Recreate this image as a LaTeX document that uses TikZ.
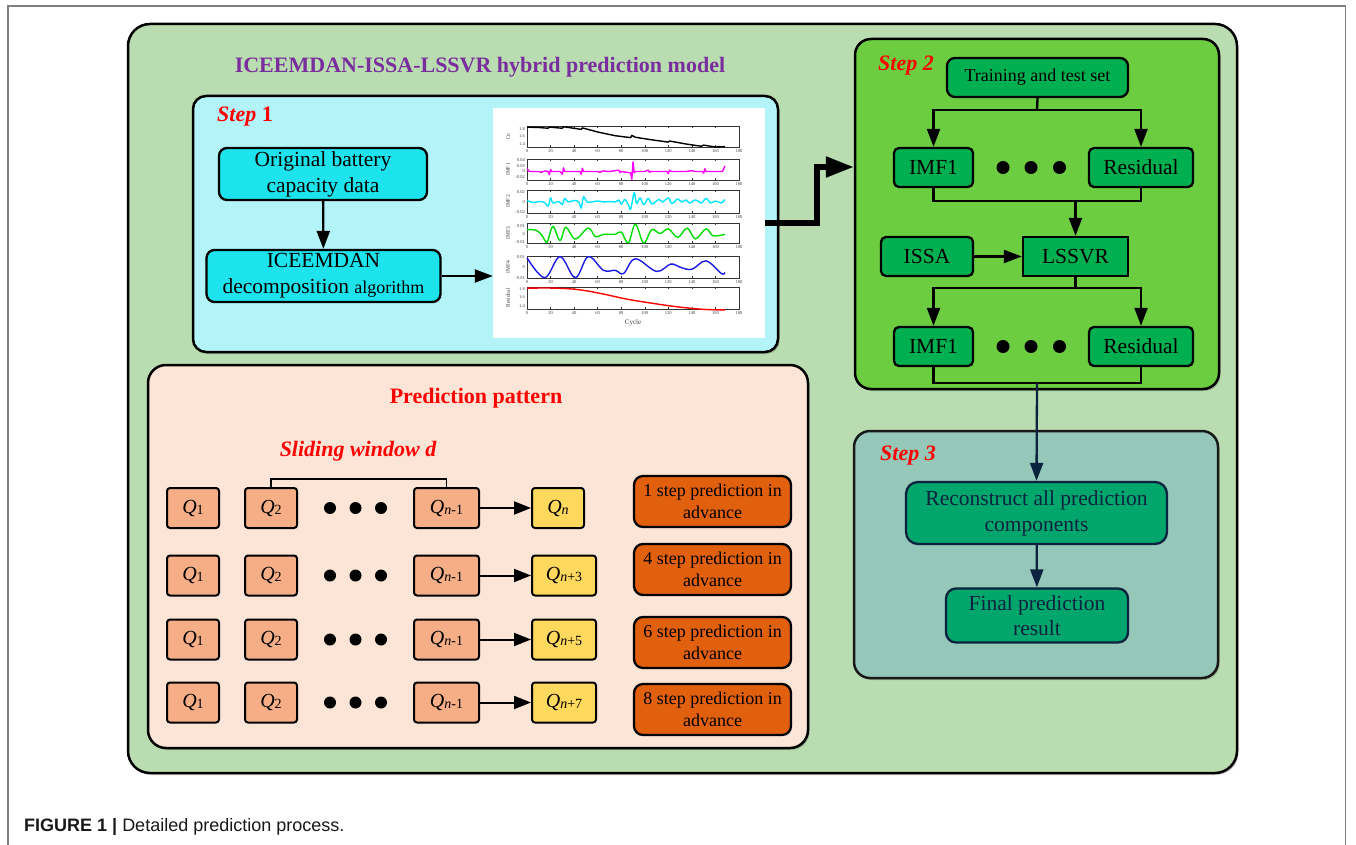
\documentclass[tikz,border=0pt]{standalone}
\usepackage{fontspec}
\setmainfont{Liberation Serif}
\newfontfamily\capfont{Liberation Sans}
\usetikzlibrary{arrows.meta,calc,shadows}
\definecolor{outerG}{HTML}{B9DDB0}
\definecolor{s1fill}{HTML}{B2F4F8}
\definecolor{cyanbox}{HTML}{1DE3EC}
\definecolor{s2fill}{HTML}{6DCD40}
\definecolor{gbox}{HTML}{00B050}
\definecolor{s3fill}{HTML}{95C8B8}
\definecolor{tbox}{HTML}{00A66B}
\definecolor{navy}{HTML}{0C2340}
\definecolor{pfill}{HTML}{FCE5D6}
\definecolor{salmon}{HTML}{F5AE85}
\definecolor{qyel}{HTML}{FFD85E}
\definecolor{porange}{HTML}{E0600E}
\definecolor{purp}{HTML}{7A2E9E}
\definecolor{redt}{HTML}{FF0000}
\definecolor{framegray}{HTML}{7F7F7F}
\definecolor{cmag}{HTML}{FF00FF}
\definecolor{ccyan}{HTML}{00E5FF}
\definecolor{cgreen}{HTML}{00DD00}
\definecolor{cblue}{HTML}{1A1AE6}
\newcommand\Qs[1]{{\itshape Q}\raisebox{-1pt}{\fontsize{14}{14}\selectfont #1}}
\newcommand\Qn[1]{{\itshape Q}\raisebox{-1pt}{\fontsize{14}{14}\selectfont{\itshape n}#1}}
\begin{document}
\begin{tikzpicture}[x=1pt,y=-1pt,
  panel/.style={draw=black, line width=2.5pt, rounded corners=16pt, inner sep=0pt,
    drop shadow={shadow xshift=1.5pt, shadow yshift=-2pt, opacity=0.18, fill=black}},
  rbox/.style={draw=black, line width=2.3pt, rounded corners=8pt, inner sep=0pt, align=center,
    font=\fontsize{21.5}{26}\selectfont},
  sbox/.style={rbox, rounded corners=5pt, fill=gbox, minimum height=39},
  qbox/.style={draw=black, line width=2pt, rounded corners=3pt, inner sep=0pt, fill=salmon,
    minimum height=40, font=\fontsize{20}{24}\selectfont},
  pbox/.style={rbox, rounded corners=9pt, fill=porange, minimum width=157, minimum height=51,
    font=\fontsize{18}{21.5}\selectfont},
  steplab/.style={anchor=west, text=redt, font=\bfseries\fontsize{22}{26}\selectfont, inner sep=0pt},
  conn/.style={line width=2.3pt},
  arr/.style={line width=2.3pt, -{Triangle[length=18pt,width=13pt]}},
  parr/.style={line width=2pt, -{Triangle[length=17pt,width=13pt]}},
  dot/.style={circle, fill=black, inner sep=0pt, minimum size=13},
  tick/.style={font=\fontsize{4.5}{5}\selectfont, inner sep=0pt, text=black!75},
  curve/.style={line width=1.4pt, line join=round}
]
\useasboundingbox (0,0) rectangle (1356,845);
\fill[white] (0,0) rectangle (1356,845);
% page frame
\draw[framegray, line width=1.5pt] (8,846) -- (8,6) -- (1345.5,6) -- (1345.5,846);

% outer box
\node[panel, fill=outerG, rounded corners=22pt, minimum width=1109, minimum height=749] (outer) at (682.5,398.5) {};
\node[text=purp, font=\bfseries\fontsize{22}{26}\selectfont, inner sep=0pt] (title) at (480,67) {ICEEMDAN-ISSA-LSSVR hybrid prediction model};

% ---------------- Step 1
\node[panel, fill=s1fill, rounded corners=13pt, minimum width=585, minimum height=256] (step1) at (485.5,224) {};
\node[steplab] (st1) at (217,117) {{\itshape Step} 1};
\node[rbox, fill=cyanbox, minimum width=208, minimum height=52] (orig) at (323,174) {Original battery\\capacity data};
\node[rbox, fill=cyanbox, minimum width=234, minimum height=52] (icee) at (323.5,276) {ICEEMDAN\\decomposition {\fontsize{18}{26}\selectfont algorithm}};
\draw[arr] (orig) -- (icee);
\node[fill=white, inner sep=0pt, minimum width=272, minimum height=229] (plot) at (629,223) {};
\draw[arr] (icee.east) -- (icee.east -| plot.west);

% plot panels
\foreach \t/\b in {126/147,159/180,190/213,223/243,256/278,287/309}{
  \draw[black!80, line width=0.6pt] (527,\t) rectangle (739,\b);
  \foreach \c in {0,20,...,180}{
    \draw[black!80, line width=0.5pt] ({527+\c*1.1778},\b) -- ++(0,-1.8);
    \draw[black!80, line width=0.5pt] ({527+\c*1.1778},\t) -- ++(0,1.8);
    \node[tick] at ({527+\c*1.1778},{\b+4}) {\c};
  }
}
\foreach \v/\yy in {1.8/129,1.6/136.5,1.4/144, 0.04/160.5,0.02/166,0/171.5,-0.02/177,
  0.02/191.7,0/202,-0.02/212.3, 0.01/226.5,0/234.3,-0.01/242, 0.01/256.7,0/267.2,-0.01/277.7,
  1.8/289,1.6/297.5,1.4/306}{
  \node[tick, anchor=east] at (525,\yy) {\v};
}
\foreach \lab/\yy in {Cn/136.5,IMF1/169.5,IMF2/201.5,IMF3/233,IMF4/267,Residual/298}{
  \node[tick, rotate=90, font=\fontsize{5.5}{6}\selectfont] at (508,\yy) {\lab};
}
\node[font=\fontsize{7}{8}\selectfont, text=black!75, inner sep=0pt] (cyc) at (633,323) {Cycle};
% Cn
\begin{scope}[shift={(527,196.5)}, x=1.1778pt, y=37.5pt]
\draw[curve, black] plot coordinates {(0,1.85) (10,1.84) (18,1.82) (19,1.85) (30,1.82) (31,1.86) (46,1.79) (47,1.83) (60,1.72) (75,1.62) (88,1.57) (89,1.63) (92,1.58) (104,1.52) (120,1.45) (121,1.48) (135,1.40) (148,1.34) (150,1.37) (160,1.32) (168,1.33)};
\end{scope}
% IMF1
\begin{scope}[shift={(527,171.5)}, x=1.1778pt, y=275pt]
\draw[curve, cmag] plot coordinates {(0,0.01) (2,0) (10,0) (12,-0.003) (15,0.002) (18,0) (19,-0.012) (20,0.007) (21,0) (28,0) (30,-0.01) (31,0.013) (32,0) (45,0) (46,-0.01) (47,0.012) (48,0) (60,0) (62,-0.003) (64,0.002) (70,0) (78,0.005) (79,-0.004) (80,0) (88,-0.005) (89,-0.028) (90,0.035) (91,-0.005) (92,0) (100,0) (103,0.005) (104,-0.003) (105,0) (119,0) (120,-0.008) (121,0.005) (122,0) (135,0) (140,0.003) (142,0) (149,0) (150,-0.006) (151,0.01) (152,0) (166,0) (168,0.02)};
\end{scope}
% IMF2
\begin{scope}[shift={(527,202)}, x=1.1778pt, y=515pt]
\draw[curve, ccyan] plot[smooth, tension=0.5] coordinates {(0,0.003) (5,-0.001) (10,0.001) (15,-0.001) (18,-0.008) (20,0.008) (22,-0.002) (27,0.001) (30,-0.005) (32,0.007) (35,0) (40,0.003) (44,0) (46,-0.012) (48,0.01) (51,0) (55,0) (60,0.002) (65,0) (70,0.001) (75,0) (78,0.004) (80,-0.004) (83,0.005) (86,-0.005) (88,-0.014) (91,0.018) (93,-0.003) (96,0.008) (99,-0.005) (103,0.007) (106,-0.004) (112,0.005) (115,0) (120,0.008) (123,-0.003) (128,0.006) (131,0) (135,0.004) (138,-0.002) (143,0.004) (148,-0.002) (152,0.007) (156,-0.002) (160,0.002) (165,-0.002) (168,0.005)};
\end{scope}
% IMF3
\begin{scope}[shift={(527,234.3)}, x=1.1778pt, y=780pt]
\draw[curve, cgreen] plot[smooth, tension=0.6] coordinates {(0,0.006) (8,0.005) (13,-0.002) (17,-0.01) (22,0.01) (28,-0.008) (33,0.009) (41,-0.006) (52,0.008) (58,-0.003) (65,0) (75,0) (80,0.003) (86,-0.011) (92,0.013) (99,-0.011) (106,0.006) (113,0.001) (120,0.007) (128,-0.004) (136,0.008) (143,-0.006) (152,0.007) (158,-0.002) (168,0)};
\end{scope}
% IMF4
\begin{scope}[shift={(527,267.2)}, x=1.1778pt, y=1050pt]
\draw[curve, cblue] plot[smooth, tension=0.6] coordinates {(0,0.009) (15,-0.01) (28,0.01) (41,-0.01) (52,0.01) (65,-0.003) (75,-0.003) (82,-0.006) (92,0.008) (110,-0.004) (122,0.003) (130,0) (140,-0.002) (152,0.006) (165,-0.006) (168,-0.005)};
\end{scope}
% Residual
\begin{scope}[shift={(527,365.5)}, x=1.1778pt, y=42.5pt]
\draw[curve, red] plot[smooth, tension=0.6] coordinates {(0,1.82) (25,1.82) (45,1.78) (65,1.68) (85,1.56) (105,1.47) (125,1.39) (145,1.33) (160,1.31) (168,1.31)};
\end{scope}

% ---------------- Step 2
\node[panel, fill=s2fill, minimum width=364, minimum height=350] (step2) at (1037,214) {};
\node[steplab] (st2) at (878,66) {\itshape Step 2};
\node[rbox, fill=gbox, minimum width=181, minimum height=39, font=\fontsize{18}{22}\selectfont] (train) at (1037.5,77.5) {Training and test set};
\node[sbox, minimum width=79] (imfa) at (933.5,167.5) {IMF1};
\node[sbox, minimum width=104] (resa) at (1141,167.5) {Residual};
\node[sbox, minimum width=92] (issa) at (927,256.5) {ISSA};
\node[sbox, rounded corners=0pt, minimum width=105] (lssvr) at (1075.5,256.5) {LSSVR};
\node[sbox, minimum width=79] (imfb) at (933.5,346.5) {IMF1};
\node[sbox, minimum width=104] (resb) at (1141,346.5) {Residual};
\foreach \yy/\n in {167.5/a,346.5/b}{
  \node[dot] (d1\n) at (1003,\yy) {};
  \node[dot] (d2\n) at (1031,\yy) {};
  \node[dot] (d3\n) at (1059.5,\yy) {};
}
\coordinate (s1) at (1037,110);
\coordinate (m1) at (1075.5,201);
\coordinate (s2) at (1075.5,288);
\coordinate (m2) at (1037,383);
\draw[conn] (train.south) -- (s1);
\draw[arr] (s1) -| (imfa.north);
\draw[arr] (s1) -| (resa.north);
\draw[conn] (imfa.south) |- (m1) -| (resa.south);
\draw[arr] (m1) -- (lssvr.north);
\draw[arr] (issa) -- (lssvr);
\draw[conn] (lssvr.south) -- (s2);
\draw[arr] (s2) -| (imfb.north);
\draw[arr] (s2) -| (resb.north);
\draw[conn] (imfb.south) |- (m2) -| (resb.south);

% thick arrow step1 -> step2
\coordinate (k1) at (817,223);
\coordinate (k2) at (817,167);
\draw[line width=5.5pt, -{Triangle[length=28pt,width=20pt]}] (plot.east) -- (k1) -- (k2) -- (step2.west |- k2);

% ---------------- Step 3
\node[panel, fill=s3fill, draw=black!90, minimum width=364, minimum height=247] (step3) at (1036,554.5) {};
\node[steplab] (st3) at (880,456) {\itshape Step 3};
\node[rbox, draw=navy, text=navy, fill=tbox, rounded corners=12pt, minimum width=261, minimum height=62, font=\fontsize{21.5}{26}\selectfont] (recon) at (1036.5,513) {Reconstruct all prediction\\components};
\node[rbox, draw=navy, text=navy, fill=tbox, rounded corners=10pt, minimum width=182, minimum height=54, font=\fontsize{21.5}{25}\selectfont] (final) at (1037,615.5) {Final prediction\\result};
\draw[line width=2.3pt, navy, -{Triangle[length=18pt,width=13pt]}] (m2) -- (recon.north);
\draw[line width=2.3pt, navy, -{Triangle[length=18pt,width=13pt]}] (recon) -- (final);

% ---------------- Prediction pattern
\node[panel, fill=pfill, rounded corners=18pt, minimum width=660, minimum height=383] (pp) at (478,556.5) {};
\node[text=redt, font=\bfseries\fontsize{22}{26}\selectfont, inner sep=0pt] (pptitle) at (476,398) {Prediction pattern};
\node[text=redt, font=\bfseries\itshape\fontsize{22}{26}\selectfont, inner sep=0pt] (slide) at (358,451) {Sliding window d};
\foreach \r/\y/\py/\k/\sb/\qw in {1/508/501.5/1/{}/52, 2/575.5/569.5/4/{+3}/64, 3/639.5/642.5/6/{+5}/64, 4/702.5/709.5/8/{+7}/64}{
  \node[qbox, minimum width=52] (qa\r) at (193,\y) {\Qs{1}};
  \node[qbox, minimum width=52] (qb\r) at (271,\y) {\Qs{2}};
  \node[dot, minimum size=12] (pd1\r) at (330,\y) {};
  \node[dot, minimum size=12] (pd2\r) at (355.5,\y) {};
  \node[dot, minimum size=12] (pd3\r) at (381,\y) {};
  \node[qbox, minimum width=65] (qc\r) at (446.5,\y) {\Qn{-1}};
  \node[qbox, fill=qyel, minimum width=\qw, anchor=west] (qd\r) at (531,\y) {\Qn{\sb}};
  \draw[parr] (qc\r.east) -- (qd\r.west);
  \node[pbox] (pr\r) at (712.5,\py) {\k{} step prediction in\\advance};
}
\draw[line width=1.8pt] (qb1.north) -- ++(0,-8) -| (qc1.north);

% caption
\node[anchor=west, inner sep=0pt, font=\capfont\fontsize{18}{21}\selectfont, text=black!90] (cap) at (24,827) {\textbf{FIGURE 1 |} Detailed prediction process.};
\end{tikzpicture}
\end{document}
